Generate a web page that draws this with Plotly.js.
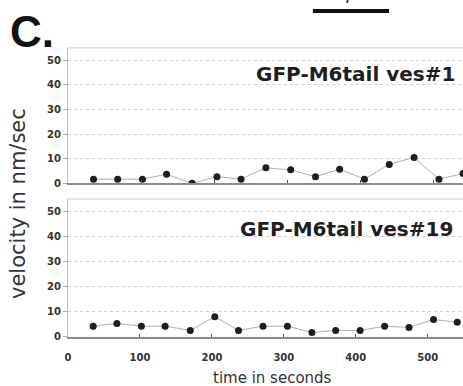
<!DOCTYPE html>
<html>
<head>
<meta charset="utf-8">
<script src="https://cdn.plot.ly/plotly-3.0.1.min.js"></script>
<style>html,body{margin:0;padding:0;background:#fff;}#chart{width:463px;height:386px;}</style>
</head>
<body>
<div id="chart"></div>
<script>
// time (s) of each measurement
const times = [35, 68, 102, 135, 170, 204, 237, 271, 305, 339, 372, 406, 440, 474, 508, 541];
// velocity (nm/sec) for vesicle #1 (top panel)
const ves1 = [1.7, 1.7, 1.7, 3.7, 0, 2.7, 1.7, 6.3, 5.5, 2.7, 5.7, 1.7, 7.7, 10.5, 1.7, 4];
// velocity (nm/sec) for vesicle #19 (bottom panel)
const ves19 = [4.3, 5.4, 4.3, 4.3, 2.6, 8.1, 2.6, 4.3, 4.3, 1.8, 2.6, 2.6, 4.3, 3.8, 7.0, 5.9];
const yTicks = [0, 10, 20, 30, 40, 50];
const xTicks = [0, 100, 200, 300, 400, 500];
const panelTitles = ["GFP-M6tail ves#1", "GFP-M6tail ves#19"];

const tickFont = {family: "DejaVu Sans", size: 10, weight: "bold", color: "#333"};
const marker = {color: "#1e1e1e", size: 7};
const line = {color: "#b0b0b0", width: 1};

const traces = [
  {x: times, y: ves1, xaxis: "x2", yaxis: "y2", mode: "lines+markers", marker: marker, line: line, hoverinfo: "none"},
  {x: times, y: ves19, xaxis: "x", yaxis: "y", mode: "lines+markers", marker: marker, line: line, hoverinfo: "none"}
];

const yBase = {
  range: [0, 55], tickvals: yTicks, ticktext: yTicks.map(String),
  showgrid: true, gridcolor: "#cfcfcf", griddash: "dot", gridwidth: 1,
  zeroline: false, showline: true, linecolor: "#bdbdbd", linewidth: 1,
  ticks: "outside", ticklen: 4, tickcolor: "#aaa", tickfont: tickFont, fixedrange: true
};
const xBase = {
  tickvals: xTicks, showgrid: false, zeroline: false,
  showline: true, linecolor: "#8c8c8c", linewidth: 2,
  ticks: "inside", ticklen: 3, tickcolor: "#555", tickfont: tickFont, fixedrange: true
};

const layout = {
  width: 463, height: 386,
  margin: {l: 68, r: 0, t: 0, b: 0},
  paper_bgcolor: "#fff", plot_bgcolor: "#fff",
  showlegend: false,
  xaxis: Object.assign({}, xBase, {range: [0, 549], anchor: "y", ticklabelstandoff: 10}),
  yaxis: Object.assign({}, yBase, {domain: [0.127, 0.4845], anchor: "x"}),
  xaxis2: Object.assign({}, xBase, {range: [0, 541], anchor: "y2", showticklabels: false}),
  yaxis2: Object.assign({}, yBase, {domain: [0.525, 0.876], anchor: "x2"}),
  shapes: [
    {type: "line", xref: "x domain", yref: "y domain", x0: 0, x1: 1, y0: 1, y1: 1, line: {color: "#c8c8c8", width: 1}},
    {type: "line", xref: "x2 domain", yref: "y2 domain", x0: 0, x1: 1, y0: 1, y1: 1, line: {color: "#c8c8c8", width: 1}},
    {type: "line", xref: "paper", yref: "paper", x0: 0.620, x1: 0.8127, y0: 0.9715, y1: 0.9715, line: {color: "#111", width: 4}}
  ],
  annotations: [
    {text: panelTitles[0], xref: "paper", yref: "paper", x: (457 - 68) / 395, y: (386 - 74) / 386,
     xanchor: "right", yanchor: "middle", showarrow: false,
     font: {family: "DejaVu Sans", size: 20, weight: "bold", color: "#1e1e1e"}},
    {text: panelTitles[1], xref: "paper", yref: "paper", x: (455 - 68) / 395, y: (386 - 229) / 386,
     xanchor: "right", yanchor: "middle", showarrow: false,
     font: {family: "DejaVu Sans", size: 20, weight: "bold", color: "#1e1e1e"}},
    {text: "velocity in nm/sec", xref: "paper", yref: "paper", x: (18 - 68) / 395, y: (386 - 204) / 386,
     xanchor: "center", yanchor: "middle", textangle: -90, showarrow: false,
     font: {family: "DejaVu Sans", size: 21, color: "#333"}},
    {text: "time in seconds", xref: "paper", yref: "paper", x: (272 - 68) / 395, y: (386 - 378) / 386,
     xanchor: "center", yanchor: "middle", showarrow: false,
     font: {family: "DejaVu Sans", size: 15, color: "#333"}},
    {text: "C.", xref: "paper", yref: "paper", x: (8 - 68) / 395, y: (386 - 32) / 386,
     xanchor: "left", yanchor: "middle", showarrow: false,
     font: {family: "Liberation Sans, Arial", size: 44, weight: "bold", color: "#111"}},
    {text: "<i>1μm</i>", xref: "paper", yref: "paper", x: (354 - 68) / 395, y: (386 - 5) / 386,
     xanchor: "center", yanchor: "bottom", showarrow: false,
     font: {family: "DejaVu Serif", size: 18, color: "#222"}}
  ]
};

Plotly.newPlot("chart", traces, layout, {displayModeBar: false, staticPlot: true});
</script>
</body>
</html>
